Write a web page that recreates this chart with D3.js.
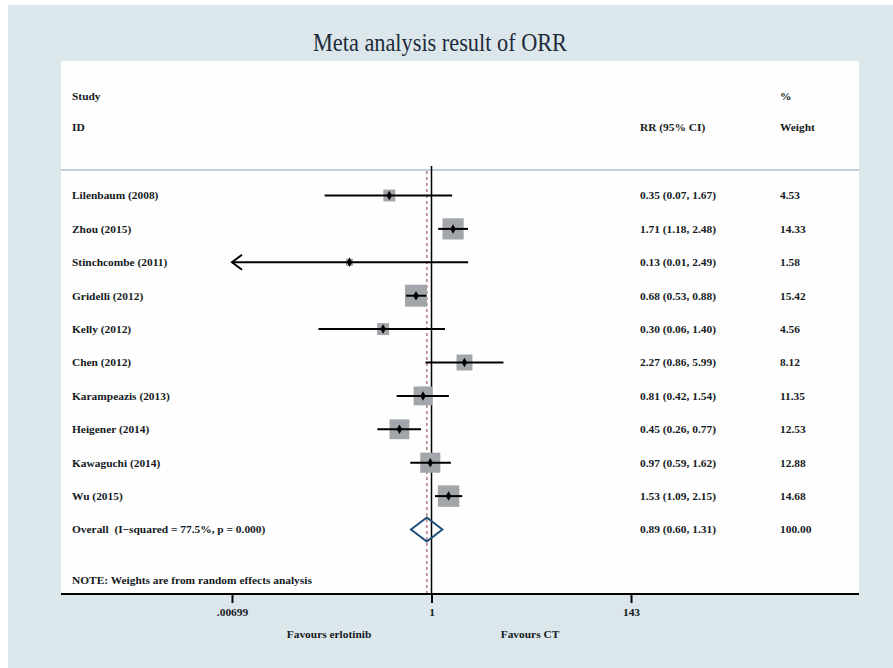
<!DOCTYPE html>
<html>
<head>
<meta charset="utf-8">
<script src="https://cdn.jsdelivr.net/npm/d3@7"></script>
<style>
  body { margin: 0; background: #ffffff; }
  svg text { font-family: "Liberation Serif", "Times New Roman", serif; }
</style>
</head>
<body>
<div id="chart"></div>
<script>
var studies = ["Lilenbaum (2008)", "Zhou (2015)", "Stinchcombe (2011)", "Gridelli (2012)", "Kelly (2012)",
               "Chen (2012)", "Karampeazis (2013)", "Heigener (2014)", "Kawaguchi (2014)", "Wu (2015)"];
var rr      = [0.35, 1.71, 0.13, 0.68, 0.30, 2.27, 0.81, 0.45, 0.97, 1.53];
var lower   = [0.07, 1.18, 0.006, 0.53, 0.06, 0.86, 0.42, 0.26, 0.59, 1.09];
var upper   = [1.67, 2.48, 2.49, 0.88, 1.40, 5.99, 1.54, 0.77, 1.62, 2.15];
var weights = [4.53, 14.33, 1.58, 15.42, 4.56, 8.12, 11.35, 12.53, 12.88, 14.68];

var overallLabel = "Overall  (I\u2212squared = 77.5%, p = 0.000)";
var overall = {rr: 0.89, lower: 0.60, upper: 1.31, weight: 100.00};

var tickValues = [0.00699, 1, 143];
var tickLabels = [".00699", "1", "143"];

var width = 893, height = 668;
var panel = {left: 61, right: 859, top: 61, bottom: 594};

var svg = d3.select("#chart").append("svg")
    .attr("width", width)
    .attr("height", height);

// background + white plot panel
svg.append("rect").attr("x", 8).attr("y", 5).attr("width", width - 8).attr("height", height - 5)
    .attr("fill", "#dce7ec");
svg.append("rect").attr("x", panel.left).attr("y", panel.top)
    .attr("width", panel.right - panel.left).attr("height", panel.bottom - panel.top)
    .attr("fill", "#fefefe");

svg.append("text")
    .attr("x", 440).attr("y", 51)
    .attr("text-anchor", "middle")
    .attr("textLength", 254)
    .attr("lengthAdjust", "spacingAndGlyphs")
    .style("font-size", "25px")
    .style("fill", "#1c2b3a")
    .text("Meta analysis result of ORR");

var x = d3.scaleLog().domain([tickValues[0], tickValues[2]]).range([232, 631]);
var rows = studies.concat([overallLabel]);
var y = d3.scalePoint().domain(d3.range(rows.length)).range([195.5, 529.5]);
var fmt = d3.format(".2f");
var side = function(w) { return 5.6 * Math.sqrt(w); };

var textColor = "#141a22";
function label(g, tx, ty, str, anchor) {
    return g.append("text")
        .attr("x", tx).attr("y", ty)
        .attr("dy", "0.35em")
        .attr("text-anchor", anchor || "start")
        .style("font-size", "11.4px")
        .style("font-weight", "bold")
        .style("fill", textColor)
        .style("white-space", "pre")
        .text(str);
}

// headers
label(svg, 72, 96, "Study");
label(svg, 72, 127, "ID");
label(svg, 640, 127, "RR (95% CI)");
label(svg, 780, 96, "%");
label(svg, 780, 127, "Weight");

svg.append("line")
    .attr("x1", panel.left).attr("x2", panel.right)
    .attr("y1", 170).attr("y2", 170)
    .attr("stroke", "#a9c5d6").attr("stroke-width", 1.5);

// reference lines
svg.append("line")
    .attr("x1", x(1)).attr("x2", x(1))
    .attr("y1", 166).attr("y2", panel.bottom)
    .attr("stroke", "#000").attr("stroke-width", 1.5);
svg.append("line")
    .attr("x1", x(overall.rr)).attr("x2", x(overall.rr))
    .attr("y1", 171).attr("y2", panel.bottom)
    .attr("stroke", "#c08e8e").attr("stroke-width", 1.8)
    .attr("stroke-dasharray", "3,3");

// study rows
var g = svg.append("g");
studies.forEach(function(s, i) {
    var cy = y(i);
    var sz = side(weights[i]);
    label(g, 72, cy, s);
    label(g, 640, cy, fmt(rr[i]) + " (" + fmt(lower[i]) + ", " + fmt(upper[i]) + ")");
    label(g, 780, cy, fmt(weights[i]));

    g.append("rect")
        .attr("x", x(rr[i]) - sz / 2).attr("y", cy - sz / 2)
        .attr("width", sz).attr("height", sz)
        .attr("fill", "#a2a6aa");

    var lo = Math.max(lower[i], x.domain()[0]);
    g.append("line")
        .attr("x1", x(lo)).attr("x2", x(Math.min(upper[i], x.domain()[1])))
        .attr("y1", cy).attr("y2", cy)
        .attr("stroke", "#000").attr("stroke-width", 2);
    if (lower[i] < x.domain()[0]) {
        // arrow for CI running off the axis
        g.append("path")
            .attr("d", "M" + (x(lo) + 10) + "," + (cy - 7.5) + "L" + x(lo) + "," + cy + "L" + (x(lo) + 10) + "," + (cy + 7.5))
            .attr("fill", "none").attr("stroke", "#000").attr("stroke-width", 2);
    }
    g.append("path")
        .attr("transform", "translate(" + x(rr[i]) + "," + cy + ")")
        .attr("d", d3.symbol(d3.symbolDiamond, 26))
        .attr("fill", "#000");
});

// overall
var oy = y(rows.length - 1);
label(g, 72, oy, overallLabel);
label(g, 640, oy, fmt(overall.rr) + " (" + fmt(overall.lower) + ", " + fmt(overall.upper) + ")");
label(g, 780, oy, fmt(overall.weight));
g.append("path")
    .attr("d", "M" + x(overall.lower) + "," + oy + "L" + x(overall.rr) + "," + (oy - 12) +
               "L" + x(overall.upper) + "," + oy + "L" + x(overall.rr) + "," + (oy + 12) + "Z")
    .attr("fill", "none").attr("stroke", "#1d4f7a").attr("stroke-width", 2);

label(svg, 72, 580, "NOTE: Weights are from random effects analysis");

// x axis
var axis = svg.append("g")
    .attr("transform", "translate(0," + panel.bottom + ")")
    .call(d3.axisBottom(x).tickValues(tickValues).tickSize(9).tickPadding(5)
        .tickFormat(function(d, i) { return tickLabels[i]; }));
axis.select(".domain").remove();
axis.selectAll(".tick line").attr("stroke", "#000").attr("stroke-width", 2);
axis.selectAll(".tick text")
    .style("font-size", "11.4px").style("font-weight", "bold")
    .style("font-family", "'Liberation Serif', serif")
    .attr("fill", textColor);
svg.append("line")
    .attr("x1", panel.left).attr("x2", panel.right)
    .attr("y1", panel.bottom).attr("y2", panel.bottom)
    .attr("stroke", "#000").attr("stroke-width", 2);

label(svg, 329, 634, "Favours erlotinib", "middle");
label(svg, 530, 634, "Favours CT", "middle");
</script>
</body>
</html>
